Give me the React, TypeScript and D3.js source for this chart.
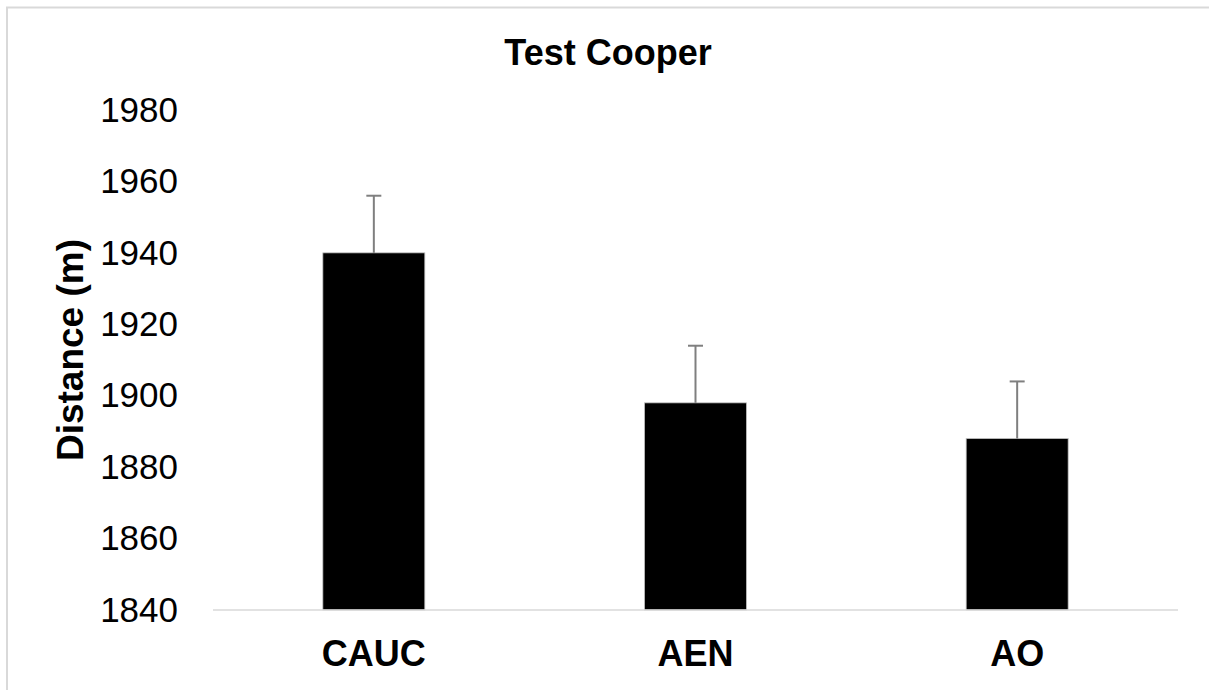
import { useEffect, useRef } from 'react'
import * as d3 from 'd3'

const categories = ['CAUC', 'AEN', 'AO']
const distances = [1940, 1898, 1888]
const errors = [16, 16, 16]
const yTicks = [1840, 1860, 1880, 1900, 1920, 1940, 1960, 1980]

const W = 1209
const H = 690
const FONT = '"Liberation Sans", Arial, Helvetica, sans-serif'

export default function App() {
  const svgRef = useRef<SVGSVGElement>(null)

  useEffect(() => {
    document.body.style.margin = '0'
    if (!svgRef.current) return
    const svg = d3.select(svgRef.current)
    svg.selectAll('*').remove()

    const margin = { top: 110, right: 31, bottom: 80, left: 213 }
    const innerW = W - margin.left - margin.right
    const innerH = H - margin.top - margin.bottom

    svg.append('rect').attr('width', W).attr('height', H).attr('fill', '#fff')

    // frame (only top/left visible in the crop)
    svg.append('path')
      .attr('d', `M7,${H} L7,7.5 L${W},7.5`)
      .attr('fill', 'none')
      .attr('stroke', '#d9d9d9')
      .attr('stroke-width', 2)

    const g = svg.append('g').attr('transform', `translate(${margin.left},${margin.top})`)

    const x = d3.scaleBand()
      .domain(categories)
      .range([0, innerW])
      .paddingInner(0.683)
      .paddingOuter(0.3415)

    const y = d3.scaleLinear().domain([1840, 1980]).range([innerH, 0])

    // y tick labels
    const yAxis = g.append('g')
      .call(d3.axisLeft(y).tickValues(yTicks).tickSize(0).tickPadding(35).tickFormat(d3.format('d')))
    yAxis.select('.domain').remove()
    yAxis.selectAll('text')
      .attr('font-family', FONT)
      .attr('font-size', '35px')
      .attr('fill', '#000')

    // bars
    g.selectAll('rect.bar')
      .data(distances)
      .join('rect')
      .attr('class', 'bar')
      .attr('x', (_, i) => x(categories[i]) ?? 0)
      .attr('y', d => y(d))
      .attr('width', x.bandwidth())
      .attr('height', d => innerH - y(d))
      .attr('fill', '#000')
      .attr('stroke', '#bfbfbf')
      .attr('stroke-width', 0.8)

    // error bars (upper only)
    distances.forEach((d, i) => {
      const cx = (x(categories[i]) ?? 0) + x.bandwidth() / 2
      g.append('line')
        .attr('x1', cx).attr('x2', cx)
        .attr('y1', y(d)).attr('y2', y(d + errors[i]))
        .attr('stroke', '#7f7f7f').attr('stroke-width', 2)
      g.append('line')
        .attr('x1', cx - 7.5).attr('x2', cx + 7.5)
        .attr('y1', y(d + errors[i])).attr('y2', y(d + errors[i]))
        .attr('stroke', '#7f7f7f').attr('stroke-width', 2)
    })

    // x axis line
    g.append('line')
      .attr('x1', 0).attr('x2', innerW)
      .attr('y1', innerH).attr('y2', innerH)
      .attr('stroke', '#d9d9d9').attr('stroke-width', 1.5)

    // category labels
    g.selectAll('text.cat')
      .data(categories)
      .join('text')
      .attr('class', 'cat')
      .attr('x', d => (x(d) ?? 0) + x.bandwidth() / 2)
      .attr('y', innerH + 56)
      .attr('text-anchor', 'middle')
      .attr('font-family', FONT)
      .attr('font-weight', 'bold')
      .attr('font-size', '36px')
      .text(d => d)

    // title
    svg.append('text')
      .attr('x', 608)
      .attr('y', 65)
      .attr('text-anchor', 'middle')
      .attr('font-family', FONT)
      .attr('font-weight', 'bold')
      .attr('font-size', '36px')
      .text('Test Cooper')

    // y label
    svg.append('text')
      .attr('transform', `translate(83,350) rotate(-90)`)
      .attr('text-anchor', 'middle')
      .attr('font-family', FONT)
      .attr('font-weight', 'bold')
      .attr('font-size', '37px')
      .text('Distance (m)')
  }, [])

  return <svg ref={svgRef} width={W} height={H} style={{ display: 'block' }} />
}
